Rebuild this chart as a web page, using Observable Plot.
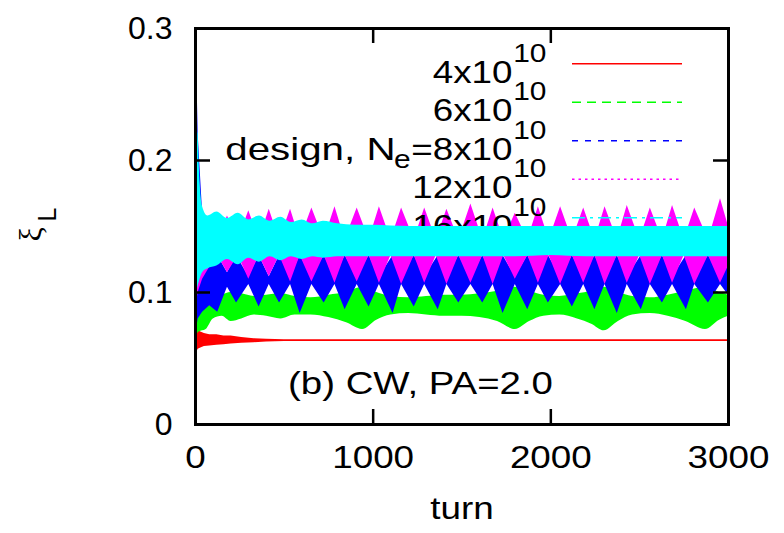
<!DOCTYPE html>
<html><head><meta charset="utf-8">
<script src="https://cdn.jsdelivr.net/npm/d3@7"></script>
<script src="https://cdn.jsdelivr.net/npm/@observablehq/plot@0.6"></script>
<style>
html,body{margin:0;padding:0;background:#fff;}
#chart{width:784px;height:533px;overflow:hidden;}
</style></head><body><div id="chart"></div>
<script>
// ---- axes ----
const xTicks = [0, 1000, 2000, 3000];
const xTickLabels = ["0", "1000", "2000", "3000"];
const yTicks = [0, 0.1, 0.2, 0.3];
const yTickLabels = ["0", "0.1", "0.2", "0.3"];
const xLabel = "turn";
const yLabelMain = "ξ";
const yLabelSub = "L";
const panelLabel = "(b) CW, PA=2.0";

// ---- legend ----
const legendPrefix = ["", "", "design, N", "", ""];
const legendSub = ["", "", "e", "", ""];
const legendValue = ["4x10", "6x10", "=8x10", "12x10", "16x10"];
const legendExp = ["10", "10", "10", "10", "10"];
const seriesColors = ["#ff0000", "#00ff00", "#0000ff", "#ff00ff", "#00ffff"];
const seriesDash = [null, "9,6", "6,7", "2.5,4", "13,5,3,5"];

// ---- series envelopes (turn, lower, upper of the fast oscillation) ----
const redTurn = [0, 3, 8, 15, 30, 50, 80, 120, 160, 200, 260, 330, 400, 500, 3000];
const redLow  = [0.3, 0.054, 0.055, 0.057, 0.058, 0.059, 0.0595, 0.060, 0.0605, 0.061, 0.0615, 0.062, 0.0625, 0.0628, 0.0628];
const redHigh = [0.3, 0.075, 0.072, 0.071, 0.070, 0.069, 0.068, 0.068, 0.067, 0.067, 0.066, 0.065, 0.0645, 0.0642, 0.0642];

const greenTurn = [0, 4, 10, 20, 60, 100, 150, 200, 260, 330, 400, 480, 560, 650, 750, 850, 940, 1020, 1100, 1200, 1300, 1400, 1500, 1600, 1700, 1800, 1880, 1960, 2050, 2150, 2230, 2300, 2380, 2460, 2560, 2660, 2760, 2870, 2950, 3000];
const greenLow  = [0.3, 0.065, 0.068, 0.070, 0.072, 0.080, 0.082, 0.078, 0.080, 0.083, 0.082, 0.080, 0.083, 0.083, 0.081, 0.077, 0.072, 0.079, 0.083, 0.084, 0.083, 0.082, 0.082, 0.081, 0.078, 0.072, 0.078, 0.082, 0.083, 0.080, 0.076, 0.071, 0.078, 0.083, 0.084, 0.082, 0.078, 0.072, 0.079, 0.082];
const greenHigh = [0.3, 0.250, 0.150, 0.110, 0.105, 0.095, 0.098, 0.100, 0.099, 0.097, 0.098, 0.099, 0.097, 0.096, 0.098, 0.100, 0.104, 0.100, 0.097, 0.096, 0.097, 0.098, 0.098, 0.099, 0.101, 0.104, 0.101, 0.098, 0.097, 0.099, 0.101, 0.104, 0.100, 0.097, 0.096, 0.098, 0.101, 0.104, 0.100, 0.098];

const blueTurn = [0, 4, 15, 40, 80, 125, 180, 231, 300, 358, 415, 473, 535, 589, 655, 724, 785, 842, 910, 977, 1035, 1112, 1160, 1231, 1290, 1366, 1415, 1482, 1550, 1617, 1675, 1731, 1800, 1870, 1930, 1986, 2055, 2121, 2185, 2248, 2305, 2374, 2430, 2509, 2560, 2628, 2685, 2763, 2810, 2887, 2955, 3000];
const blueLow  = [0.3, 0.070, 0.080, 0.085, 0.090, 0.085, 0.104, 0.092, 0.106, 0.089, 0.106, 0.092, 0.106, 0.084, 0.106, 0.092, 0.106, 0.087, 0.106, 0.089, 0.106, 0.084, 0.106, 0.089, 0.106, 0.087, 0.106, 0.092, 0.106, 0.092, 0.106, 0.084, 0.106, 0.087, 0.106, 0.092, 0.106, 0.089, 0.106, 0.087, 0.106, 0.084, 0.106, 0.087, 0.106, 0.092, 0.106, 0.087, 0.106, 0.092, 0.106, 0.098];
const blueHigh = [0.3, 0.290, 0.220, 0.160, 0.130, 0.128, 0.115, 0.128, 0.112, 0.128, 0.112, 0.128, 0.112, 0.128, 0.112, 0.128, 0.112, 0.128, 0.112, 0.128, 0.112, 0.128, 0.112, 0.128, 0.112, 0.128, 0.112, 0.128, 0.112, 0.128, 0.112, 0.128, 0.112, 0.128, 0.112, 0.128, 0.112, 0.128, 0.112, 0.128, 0.112, 0.128, 0.112, 0.128, 0.112, 0.128, 0.112, 0.128, 0.112, 0.128, 0.112, 0.120];

const magentaTurn = [0, 4, 15, 40, 75, 125, 180, 240, 300, 358, 415, 473, 535, 589, 655, 724, 785, 842, 910, 977, 1035, 1100, 1160, 1231, 1290, 1355, 1415, 1482, 1550, 1617, 1675, 1735, 1800, 1870, 1930, 1990, 2055, 2121, 2185, 2248, 2305, 2374, 2430, 2500, 2560, 2628, 2685, 2750, 2810, 2887, 2955, 3000];
const magentaLow  = [0.3, 0.090, 0.100, 0.110, 0.118, 0.128, 0.115, 0.128, 0.110, 0.128, 0.112, 0.128, 0.108, 0.128, 0.108, 0.128, 0.107, 0.128, 0.108, 0.128, 0.107, 0.128, 0.106, 0.128, 0.107, 0.128, 0.106, 0.128, 0.107, 0.128, 0.106, 0.128, 0.110, 0.128, 0.107, 0.128, 0.106, 0.128, 0.107, 0.128, 0.106, 0.128, 0.107, 0.128, 0.106, 0.128, 0.107, 0.128, 0.106, 0.128, 0.107, 0.120];
const magentaHigh = [0.3, 0.280, 0.200, 0.150, 0.158, 0.140, 0.158, 0.140, 0.162, 0.140, 0.163, 0.140, 0.163, 0.140, 0.164, 0.140, 0.165, 0.140, 0.164, 0.140, 0.165, 0.140, 0.164, 0.140, 0.164, 0.140, 0.163, 0.140, 0.167, 0.140, 0.164, 0.140, 0.160, 0.140, 0.165, 0.140, 0.165, 0.140, 0.164, 0.140, 0.165, 0.140, 0.166, 0.140, 0.164, 0.140, 0.166, 0.140, 0.164, 0.140, 0.171, 0.150];

const cyanTurn = [0, 4, 15, 40, 70, 120, 180, 240, 300, 360, 420, 480, 540, 600, 660, 720, 800, 900, 1000, 1200, 1400, 1600, 1800, 2000, 2200, 2400, 2600, 2800, 3000];
const cyanLow  = [0.3, 0.100, 0.105, 0.115, 0.118, 0.120, 0.125, 0.121, 0.126, 0.123, 0.127, 0.124, 0.127, 0.125, 0.127, 0.126, 0.127, 0.127, 0.127, 0.127, 0.127, 0.127, 0.127, 0.128, 0.127, 0.127, 0.127, 0.127, 0.127];
const cyanHigh = [0.3, 0.300, 0.220, 0.165, 0.158, 0.161, 0.156, 0.160, 0.155, 0.158, 0.154, 0.157, 0.153, 0.155, 0.152, 0.154, 0.152, 0.151, 0.151, 0.150, 0.150, 0.150, 0.150, 0.150, 0.150, 0.150, 0.150, 0.150, 0.150];

function table(turn, lo, hi) { return turn.map((t, i) => ({turn: t, lo: lo[i], hi: hi[i]})); }
const seriesData = [
  table(redTurn, redLow, redHigh),
  table(greenTurn, greenLow, greenHigh),
  table(blueTurn, blueLow, blueHigh),
  table(magentaTurn, magentaLow, magentaHigh),
  table(cyanTurn, cyanLow, cyanHigh)
];
const seriesCurve = ["linear", "monotone-x", "linear", "linear", "monotone-x"];

const FONT = "'Liberation Sans', Arial, Helvetica, sans-serif";
const plotW = 784 - 195 - 56, plotH = 533 - 28 - 109;
const tickLen = 15;

const marks = [];
seriesData.forEach((data, i) => {
  const rowDy = 54 + 38.5 * i;
  if (legendPrefix[i]) marks.push(Plot.text([legendPrefix[i]], {text: d => d, frameAnchor: "top-left", dx: 200, dy: rowDy, textAnchor: "end", lineAnchor: "bottom", fontSize: 32}));
  if (legendSub[i]) marks.push(Plot.text([legendSub[i]], {text: d => d, frameAnchor: "top-left", dx: 215, dy: rowDy + 8, textAnchor: "end", lineAnchor: "bottom", fontSize: 26}));
  marks.push(Plot.text([legendValue[i]], {text: d => d, frameAnchor: "top-left", dx: 317, dy: rowDy, textAnchor: "end", lineAnchor: "bottom", fontSize: 32}));
  marks.push(Plot.text([legendExp[i]], {text: d => d, frameAnchor: "top-left", dx: 351, dy: rowDy - 21, textAnchor: "end", lineAnchor: "bottom", fontSize: 26}));
  marks.push(Plot.ruleY([yTicks[yTicks.length - 1]], {y: d => d, dy: 35.3 + 38.5 * i, insetLeft: 377, insetRight: 46, stroke: seriesColors[i], strokeWidth: 1.6, strokeDasharray: seriesDash[i]}));
  marks.push(Plot.areaY(data, {x: "turn", y1: "lo", y2: "hi", fill: seriesColors[i], curve: seriesCurve[i]}));
});
marks.push(Plot.text([panelLabel], {text: d => d, frameAnchor: "top-left", dx: 225, dy: 365, textAnchor: "middle", lineAnchor: "bottom", fontSize: 32}));
marks.push(Plot.frame({stroke: "black", strokeWidth: 3}));
marks.push(Plot.tickX(xTicks, {x: d => d, insetTop: plotH - tickLen, stroke: "black", strokeWidth: 2.5}));
marks.push(Plot.tickX(xTicks, {x: d => d, insetBottom: plotH - tickLen, stroke: "black", strokeWidth: 2.5}));
marks.push(Plot.tickY(yTicks, {y: d => d, insetRight: plotW - tickLen, stroke: "black", strokeWidth: 2.5}));
marks.push(Plot.tickY(yTicks, {y: d => d, insetLeft: plotW - tickLen, stroke: "black", strokeWidth: 2.5}));
marks.push(Plot.axisX(xTicks, {anchor: "bottom", tickSize: 0, tickPadding: 21, fontSize: 32, label: null, tickFormat: d => xTickLabels[xTicks.indexOf(d)]}));
marks.push(Plot.axisY(yTicks, {anchor: "left", tickSize: 0, tickPadding: 23, fontSize: 32, label: null, tickFormat: d => yTickLabels[yTicks.indexOf(d)]}));
marks.push(Plot.text([xLabel], {text: d => d, frameAnchor: "bottom", dy: 94, textAnchor: "middle", lineAnchor: "bottom", fontSize: 32}));
marks.push(Plot.text([yLabelMain], {text: d => d, frameAnchor: "top-left", dx: -155, dy: 213, rotate: -90, textAnchor: "start", lineAnchor: "bottom", fontSize: 32, fontFamily: "'Liberation Serif', 'DejaVu Serif', serif"}));
marks.push(Plot.text([yLabelSub], {text: d => d, frameAnchor: "top-left", dx: -140, dy: 193, rotate: -90, textAnchor: "start", lineAnchor: "bottom", fontSize: 25}));

const chart = Plot.plot({
  width: 784, height: 533,
  marginLeft: 195, marginRight: 56, marginTop: 28, marginBottom: 109,
  x: {domain: [xTicks[0], xTicks[xTicks.length - 1]]},
  y: {domain: [yTicks[0], yTicks[yTicks.length - 1]]},
  style: {fontFamily: FONT, fontSize: "32px", background: "white", color: "black"},
  marks
});
// the reference's upright lettering is slightly wide: stretch it horizontally about its anchor
chart.querySelectorAll("text").forEach(t => {
  const tr = t.getAttribute("transform") || "";
  if (tr.includes("rotate")) return;
  const grp = t.closest("g");
  if (grp && grp.getAttribute("aria-label") === "y-axis tick label") return;
  const s = t.textContent;
  const k = s === panelLabel ? 1.2 : s === legendPrefix[2] ? 1.26 : 1.15;
  t.setAttribute("transform", tr + ` scale(${k},1)`);
});
document.getElementById("chart").appendChild(chart);
</script></body></html>
